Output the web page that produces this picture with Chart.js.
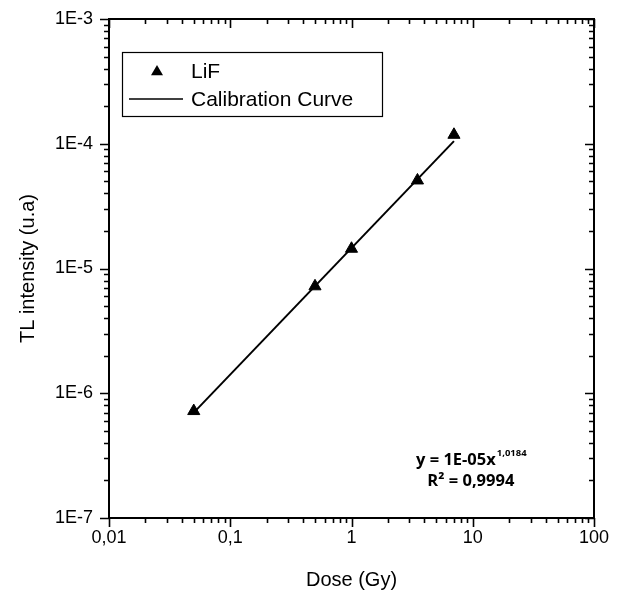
<!DOCTYPE html>
<html>
    <head>
        <meta charset="UTF-8">
        <title>LiF calibration</title>
        <script src="https://cdn.jsdelivr.net/npm/chart.js@4.4.1/dist/chart.umd.min.js"></script>
        <style>
            body { margin: 0; background: #fff; }
        </style>
    </head>
    <body>
        <canvas id="myChart" width="622" height="592"></canvas>
        <script>
            // measured points (LiF)
            var doseGy = [0.05, 0.5, 1, 3.5, 7];
            var tlIntensity = [7.2e-7, 7.2e-6, 1.44e-5, 5.08e-5, 1.18e-4];

            // fitted calibration curve end points
            var fitDose = [0.05, 7];
            var fitIntensity = [7.0e-7, 1.05e-4];

            // axis decades and their labels
            var xTickValues = [0.01, 0.1, 1, 10, 100];
            var xTickLabels = ['0,01', '0,1', '1', '10', '100'];
            var yTickValues = [1e-7, 1e-6, 1e-5, 1e-4, 1e-3];
            var yTickLabels = ['1E-7', '1E-6', '1E-5', '1E-4', '1E-3'];

            var fitEquation = 'y = 1E-05x';
            var fitExponent = '1,0184';
            var fitR2 = 'R\u00B2 = 0,9994';

            function toPoints(xs, ys) {
                var out = [];
                for (var i = 0; i < xs.length; i++) out.push({x: xs[i], y: ys[i]});
                return out;
            }

            // 1..9 x 10^n between the first and last decade
            function minorValues(decades) {
                var vals = [];
                for (var i = 0; i < decades.length - 1; i++) {
                    for (var k = 1; k < 10; k++) vals.push(decades[i] * k);
                }
                vals.push(decades[decades.length - 1]);
                return vals;
            }

            function setTicks(values) {
                return function (scale) {
                    scale.ticks = minorValues(values).map(function (v) { return {value: v}; });
                };
            }

            function labelFor(values, labels) {
                return function (value) {
                    for (var i = 0; i < values.length; i++) {
                        if (Math.abs(value / values[i] - 1) < 1e-6) return labels[i];
                    }
                    return '';
                };
            }

            function isDecade(values, v) {
                for (var i = 0; i < values.length; i++) {
                    if (Math.abs(v / values[i] - 1) < 1e-6) return true;
                }
                return false;
            }

            // frame + tick marks (out on bottom/left, in on top/right)
            var framePlugin = {
                id: 'frame',
                afterDraw: function (chart) {
                    var ctx = chart.ctx, a = chart.chartArea;
                    var xs = chart.scales.x, ys = chart.scales.y;
                    var major = 9, minor = 5;
                    ctx.save();
                    ctx.strokeStyle = '#000';
                    ctx.lineWidth = 1.6;
                    ctx.beginPath();
                    minorValues(xTickValues).forEach(function (v) {
                        var px = Math.round(xs.getPixelForValue(v)) + 0.5;
                        var len = isDecade(xTickValues, v) ? major : minor;
                        ctx.moveTo(px, a.bottom); ctx.lineTo(px, a.bottom + len);
                        ctx.moveTo(px, a.top); ctx.lineTo(px, a.top + len);
                    });
                    minorValues(yTickValues).forEach(function (v) {
                        var py = Math.round(ys.getPixelForValue(v)) + 0.5;
                        var len = isDecade(yTickValues, v) ? major : minor;
                        ctx.moveTo(a.left, py); ctx.lineTo(a.left - len, py);
                        ctx.moveTo(a.right, py); ctx.lineTo(a.right - len, py);
                    });
                    ctx.stroke();
                    ctx.lineWidth = 2;
                    ctx.strokeRect(a.left, a.top, a.right - a.left, a.bottom - a.top);

                    // legend box
                    var lx = a.left + 13, ly = a.top + 33, lw = 260, lh = 64;
                    ctx.lineWidth = 1.2;
                    ctx.fillStyle = '#fff';
                    ctx.fillRect(lx, ly, lw, lh);
                    ctx.strokeRect(lx + 0.5, ly + 0.5, lw, lh);
                    ctx.fillStyle = '#000';
                    ctx.font = '21px "Liberation Sans", Arial, sans-serif';
                    ctx.textBaseline = 'middle';
                    ctx.textAlign = 'left';
                    var ds = chart.data.datasets;
                    // triangle marker
                    var tx = lx + 35, ty = ly + 19, r = 6;
                    ctx.beginPath();
                    ctx.moveTo(tx, ty - r);
                    ctx.lineTo(tx + r, ty + r * 0.7);
                    ctx.lineTo(tx - r, ty + r * 0.7);
                    ctx.closePath();
                    ctx.fill();
                    ctx.fillText(ds[0].label, lx + 69, ty + 1);
                    var cy = ly + 47;
                    ctx.lineWidth = 1.5;
                    ctx.beginPath();
                    ctx.moveTo(lx + 7, cy); ctx.lineTo(lx + 61, cy);
                    ctx.stroke();
                    ctx.fillText(ds[1].label, lx + 69, cy + 1);

                    // fit equation
                    var ex = a.left + (a.right - a.left) * 0.746;
                    var big = 'bold 16.5px "Open Sans", sans-serif';
                    var small = 'bold 9.5px "Open Sans", sans-serif';
                    ctx.font = big;
                    var w1 = ctx.measureText(fitEquation).width;
                    ctx.font = small;
                    var w2 = ctx.measureText(fitExponent).width;
                    var sx = ex - (w1 + w2) / 2;
                    ctx.font = big;
                    ctx.fillText(fitEquation, sx, a.bottom - 58);
                    ctx.font = small;
                    ctx.fillText(fitExponent, sx + w1 + 1, a.bottom - 65);
                    ctx.font = big;
                    ctx.textAlign = 'center';
                    ctx.fillText(fitR2, ex, a.bottom - 37);
                    ctx.restore();
                }
            };

            var ctx = document.getElementById('myChart').getContext('2d');
            var chart = new Chart(ctx, {
                type: 'scatter',
                data: {
                    datasets: [
                        {
                            label: 'LiF',
                            data: toPoints(doseGy, tlIntensity),
                            pointStyle: 'triangle',
                            pointRadius: 7,
                            backgroundColor: '#000',
                            borderColor: '#000',
                            borderWidth: 1,
                            showLine: false,
                            order: 0
                        },
                        {
                            label: 'Calibration Curve',
                            data: toPoints(fitDose, fitIntensity),
                            showLine: true,
                            pointRadius: 0,
                            borderColor: '#000',
                            borderWidth: 2,
                            order: 1
                        }
                    ]
                },
                options: {
                    responsive: false,
                    animation: false,
                    layout: { padding: { top: 19, right: 28, left: 0, bottom: 0 } },
                    plugins: {
                        legend: { display: false },
                        tooltip: { enabled: false }
                    },
                    scales: {
                        x: {
                            type: 'logarithmic',
                            min: xTickValues[0],
                            max: xTickValues[xTickValues.length - 1],
                            afterBuildTicks: setTicks(xTickValues),
                            afterFit: function (s) { s.height = 74; s.paddingLeft = 0; s.paddingRight = 0; },
                            grid: { display: false, drawTicks: false },
                            border: { display: false },
                            ticks: {
                                autoSkip: false,
                                maxRotation: 0,
                                padding: 9,
                                color: '#000',
                                font: { family: '"Liberation Sans", Arial, sans-serif', size: 18 },
                                callback: labelFor(xTickValues, xTickLabels)
                            },
                            title: {
                                display: true,
                                text: 'Dose (Gy)',
                                color: '#000',
                                padding: { top: 0, bottom: 2 },
                                font: { family: '"Liberation Sans", Arial, sans-serif', size: 20, lineHeight: 1 }
                            }
                        },
                        y: {
                            type: 'logarithmic',
                            min: yTickValues[0],
                            max: yTickValues[yTickValues.length - 1],
                            afterBuildTicks: setTicks(yTickValues),
                            afterFit: function (s) { s.width = 109; s.paddingTop = 0; s.paddingBottom = 0; },
                            grid: { display: false, drawTicks: false },
                            border: { display: false },
                            ticks: {
                                autoSkip: false,
                                padding: 16,
                                color: '#000',
                                font: { family: '"Liberation Sans", Arial, sans-serif', size: 18 },
                                callback: labelFor(yTickValues, yTickLabels)
                            },
                            title: {
                                display: true,
                                text: 'TL intensity (u.a)',
                                color: '#000',
                                padding: { top: 18, bottom: 0 },
                                font: { family: '"Liberation Sans", Arial, sans-serif', size: 20, lineHeight: 1 }
                            }
                        }
                    }
                },
                plugins: [framePlugin]
            });
        </script>
    </body>
</html>
